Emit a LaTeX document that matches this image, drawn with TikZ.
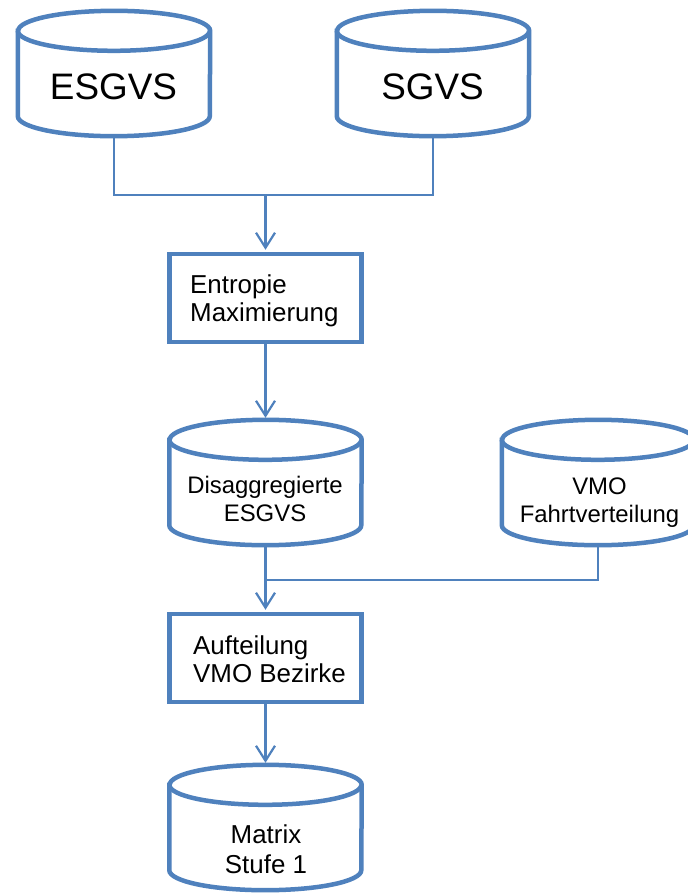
\documentclass[tikz,border=0pt]{standalone}
\usepackage{fontspec}
\setmainfont{Liberation Sans}
\usetikzlibrary{arrows.meta}
\definecolor{flowblue}{HTML}{4F81BD}

% two text lines, first baseline is the box baseline
\newcommand\twoline[3]{\begin{tabular}[t]{@{}#1@{}}#2\\#3\end{tabular}}

% database drum drawn round an (invisible) node
\newcommand\drumoutline[1]{%
  \draw[drumline,fill=white] ([yshift=-20bp]#1.north west) -- ([yshift=20bp]#1.south west)
    arc[start angle=180,end angle=360,x radius=96bp,y radius=20bp]
    -- ([yshift=-20bp]#1.north east)
    arc[start angle=0,end angle=180,x radius=96bp,y radius=20bp] -- cycle;
  \draw[drumline] ([yshift=-20bp]#1.north west)
    arc[start angle=180,end angle=360,x radius=96bp,y radius=20bp];
}

\begin{document}
\begin{tikzpicture}[x=1bp,y=-1bp,
  drum/.style={draw=none,inner sep=0pt,minimum width=192bp,minimum height=125bp},
  drumline/.style={draw=flowblue,line width=4.5bp},
  procbox/.style={draw=flowblue,line width=4.5bp,fill=white,inner sep=0pt,
    minimum width=192bp,minimum height=88bp},
  bigtext/.style={inner sep=0pt,font=\fontsize{37}{44}\selectfont},
  drumtext/.style={inner sep=0pt,font=\fontsize{24}{29}\selectfont},
  boxtext/.style={inner sep=0pt,font=\fontsize{26}{29}\selectfont},
  conn/.style={draw=flowblue,line width=2.2bp},
  arr/.style={-{Straight Barb[length=15bp,width=19bp]},shorten >=2bp}]

\fill[white] (0,0) rectangle (688,893);
\useasboundingbox (0,0) rectangle (688,893);

% data stores
\node[drum] (esgvs) at (114,73.5) {};
\node[drum] (sgvs) at (433,73.5) {};
\node[drum] (disagg) at (265.5,482.5) {};
\node[drum] (vmo) at (598,482.5) {};
\node[drum] (matrix) at (265.5,827.5) {};
\drumoutline{esgvs}
\drumoutline{sgvs}
\drumoutline{disagg}
\drumoutline{vmo}
\drumoutline{matrix}

\node[bigtext,anchor=base] (esgvs-label) at (113.5,99) {ESGVS};
\node[bigtext,anchor=base] (sgvs-label) at (432.5,99) {SGVS};
\node[drumtext,anchor=base] (disagg-label) at (265,493) {\twoline{c}{Disaggregierte}{ESGVS}};
\node[drumtext,anchor=base] (vmo-label) at (599.5,494) {\twoline{c}{VMO}{Fahrtverteilung}};
\node[drumtext,anchor=base,font=\fontsize{26}{31}\selectfont] (matrix-label) at (266,843) {\twoline{c}{Matrix}{Stufe 1}};

% processing steps
\node[procbox] (entropie) at (265.5,298) {};
\node[procbox] (aufteilung) at (265.5,658) {};
\node[boxtext,anchor=base west] (entropie-label) at (190,293) {\twoline{l}{Entropie}{Maximierung}};
\node[boxtext,anchor=base west] (aufteilung-label) at (193,654) {\twoline{l}{Aufteilung}{VMO Bezirke}};

% flow
\coordinate (topjoin) at (265.5,195);
\coordinate (midjoin) at (265.5,580);
\draw[conn] (esgvs.south) |- (topjoin);
\draw[conn] (sgvs.south) |- (topjoin);
\draw[conn,arr] (topjoin) -- (entropie.north);
\draw[conn,arr] (entropie.south) -- (disagg.north);
\draw[conn] (disagg.south) -- (midjoin);
\draw[conn] (vmo.south) |- (midjoin);
\draw[conn,arr] (midjoin) -- (aufteilung.north);
\draw[conn,arr] (aufteilung.south) -- (matrix.north);
\end{tikzpicture}
\end{document}
